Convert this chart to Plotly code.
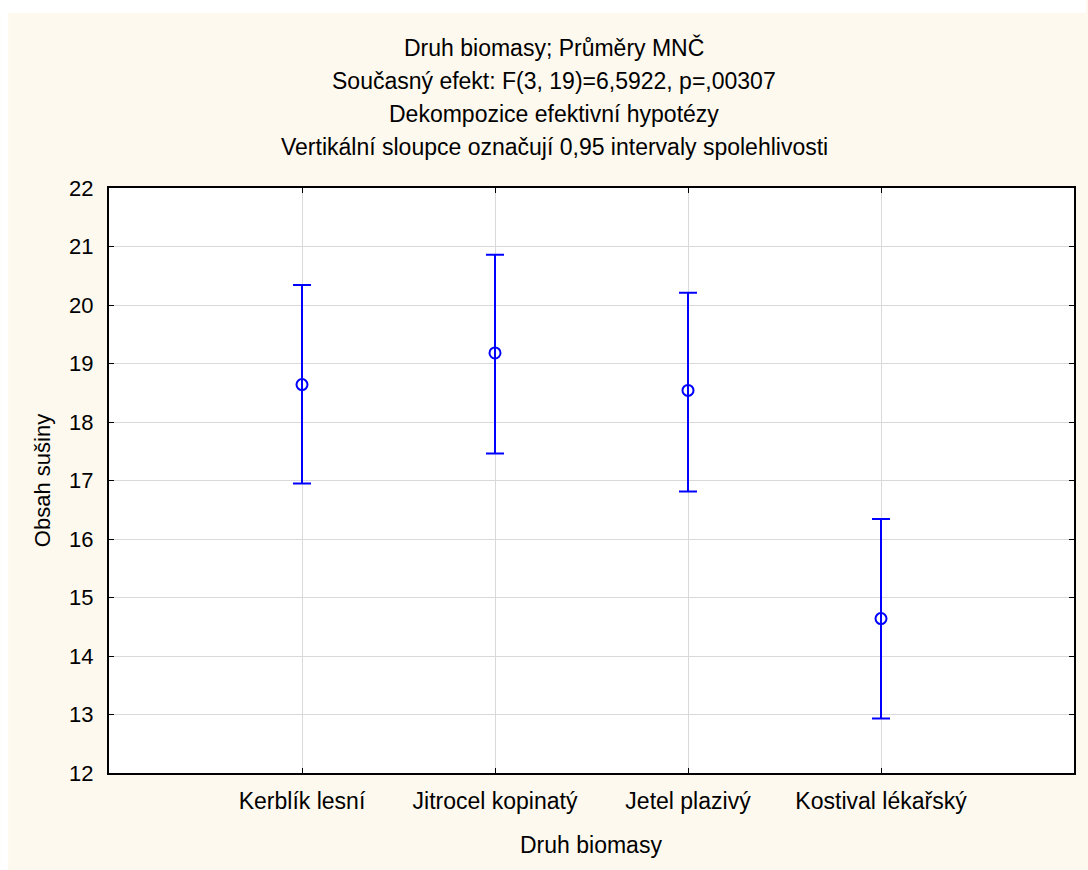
import plotly.graph_objects as go

# Least-squares means of dry matter content with 0.95 confidence limits
categories = ["Kerblík lesní", "Jitrocel kopinatý", "Jetel plazivý", "Kostival lékařský"]
means = [18.64, 19.18, 18.54, 14.64]
lower = [16.95, 17.46, 16.81, 12.93]
upper = [20.34, 20.86, 20.21, 16.34]

y_ticks = [12, 13, 14, 15, 16, 17, 18, 19, 20, 21, 22]

title_lines = [
    "Druh biomasy; Průměry MNČ",
    "Současný efekt: F(3, 19)=6,5922, p=,00307",
    "Dekompozice efektivní hypotézy",
    "Vertikální sloupce označují 0,95 intervaly spolehlivosti",
]

FONT = "Liberation Sans, Arial, sans-serif"
BLUE = "#0000FF"
CREAM = "#FEF9EE"

W, H = 1088, 870
ML, MR, MT, MB = 109, 12, 188, 97
PW, PH = W - ML - MR, H - MT - MB


def px_x(px):
    return (px - ML) / PW


def px_y(py):
    return (H - MB - py) / PH


err_plus = [u - m for u, m in zip(upper, means)]
err_minus = [m - l for m, l in zip(means, lower)]

fig = go.Figure()
fig.add_trace(go.Scatter(
    x=categories,
    y=means,
    mode="markers",
    marker=dict(symbol="circle-open", size=11, color=BLUE, line=dict(width=2, color=BLUE)),
    error_y=dict(type="data", symmetric=False, array=err_plus, arrayminus=err_minus,
                 color=BLUE, thickness=2, width=9),
    showlegend=False,
    hoverinfo="skip",
))

# white outer strip on the top and left edges of the cream page
fig.add_shape(type="rect", xref="paper", yref="paper", layer="below",
              x0=px_x(0), x1=px_x(W), y0=px_y(13), y1=px_y(0),
              fillcolor="white", line=dict(width=0))
fig.add_shape(type="rect", xref="paper", yref="paper", layer="below",
              x0=px_x(0), x1=px_x(8), y0=px_y(H), y1=px_y(0),
              fillcolor="white", line=dict(width=0))

title_y = [48, 81, 114, 147]
for text, py in zip(title_lines, title_y):
    fig.add_annotation(text=text, xref="paper", yref="paper",
                       x=px_x(555), y=px_y(py), xanchor="center", yanchor="middle",
                       showarrow=False, font=dict(family=FONT, size=23, color="black"))

fig.add_annotation(text="Obsah sušiny", xref="paper", yref="paper",
                   x=px_x(42), y=px_y(481), xanchor="center", yanchor="middle",
                   textangle=-90, showarrow=False,
                   font=dict(family=FONT, size=22, color="black"))
fig.add_annotation(text="Druh biomasy", xref="paper", yref="paper",
                   x=px_x(592), y=px_y(845), xanchor="center", yanchor="middle",
                   showarrow=False, font=dict(family=FONT, size=23, color="black"))

axis_common = dict(
    showline=True, linecolor="black", linewidth=2, mirror="ticks",
    ticks="inside", ticklen=5, tickwidth=1, tickcolor="black",
    showgrid=True, gridcolor="#D9D9D9", gridwidth=1, zeroline=False,
)

fig.update_layout(
    width=W, height=H,
    margin=dict(l=ML, r=MR, t=MT, b=MB, pad=0),
    paper_bgcolor=CREAM,
    plot_bgcolor="white",
    xaxis=dict(type="category", categoryorder="array", categoryarray=categories,
               range=[-1, 4], ticklabelstandoff=6,
               tickfont=dict(family=FONT, size=23, color="black"), **axis_common),
    yaxis=dict(range=[12, 22], tickvals=y_ticks, ticklabelstandoff=9,
               tickfont=dict(family=FONT, size=22, color="black"), **axis_common),
)

fig.write_html("out.html")
